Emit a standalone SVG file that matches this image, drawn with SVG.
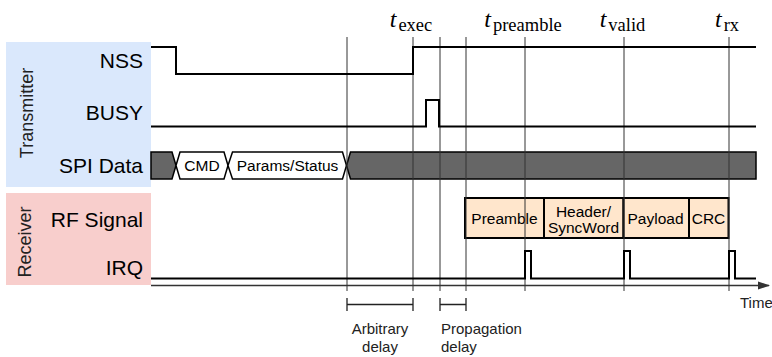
<svg xmlns="http://www.w3.org/2000/svg" width="772" height="357" viewBox="0 0 772 357">
<defs>
<style>
.lbl{font-family:"Liberation Sans",Arial,sans-serif;font-size:21px;fill:#000;text-anchor:end}
.side{font-family:"Liberation Sans",Arial,sans-serif;font-size:18px;fill:#222;text-anchor:middle}
.sm{font-family:"Liberation Sans",Arial,sans-serif;font-size:15.5px;fill:#000;text-anchor:middle}
.note{font-family:"Liberation Sans",Arial,sans-serif;font-size:15px;fill:#222}
.math{font-family:"Liberation Serif","Times New Roman",serif;font-size:24px;fill:#000;text-anchor:middle}
.sub{font-size:18.5px;font-style:normal}
.sig{fill:none;stroke:#000;stroke-width:2}
.vl{stroke:#333;stroke-width:1}
.hex{fill:#fff;stroke:#000;stroke-width:1.5}
.gray{fill:#666;stroke:#000;stroke-width:1.5}
.box{fill:#ffe6cc;stroke:#000;stroke-width:2}
.br{fill:none;stroke:#222;stroke-width:1.3}
</style>
<marker id="arr" markerWidth="12" markerHeight="10" refX="11" refY="5" orient="auto" markerUnits="userSpaceOnUse">
<path d="M0,1 L12,5 L0,9 z" fill="#333"/>
</marker>
</defs>
<rect width="772" height="357" fill="#fff"/>

<g id="panel-transmitter">
<rect x="6" y="42" width="145" height="145" fill="#dae8fc"/>
<text class="side" transform="translate(33,113) rotate(-90)">Transmitter</text>
</g>
<g id="panel-receiver">
<rect x="6" y="193" width="145" height="92" fill="#f8cecc"/>
<text class="side" transform="translate(31,242) rotate(-90)">Receiver</text>
</g>

<g id="label-nss"><text class="lbl" x="143" y="68">NSS</text></g>
<g id="label-busy"><text class="lbl" x="143" y="120">BUSY</text></g>
<g id="label-spi"><text class="lbl" x="143" y="173">SPI Data</text></g>
<g id="label-rf"><text class="lbl" x="143" y="227">RF Signal</text></g>
<g id="label-irq"><text class="lbl" x="143" y="275">IRQ</text></g>

<g id="spi-data">
<polygon class="gray" points="151,152 172,152 176,165.5 172,179 151,179"/>
<polygon class="hex" points="176,165.5 180,152 224,152 228,165.5 224,179 180,179"/>
<text class="sm" x="202" y="171">CMD</text>
<polygon class="hex" points="228,165.5 232.5,152 342.5,152 346.5,165.5 342.5,179 232.5,179"/>
<text class="sm" x="287.5" y="171">Params/Status</text>
<polygon class="gray" points="346.5,165.5 350.5,152 756,152 756,179 350.5,179"/>
</g>

<g id="rf-signal">
<rect class="box" x="465" y="198" width="79" height="40"/>
<text class="sm" x="504.5" y="224">Preamble</text>
<rect class="box" x="544" y="198" width="79.5" height="40"/>
<text class="sm" x="583.5" y="216.5">Header/</text>
<text class="sm" x="583.5" y="233">SyncWord</text>
<rect class="box" x="623.5" y="198" width="65.5" height="40"/>
<text class="sm" x="655.5" y="224">Payload</text>
<rect class="box" x="689" y="198" width="39.5" height="40"/>
<text class="sm" x="708.5" y="224">CRC</text>
</g>

<g id="connectors">
<line class="vl" x1="347" y1="37" x2="347" y2="291"/>
<line class="vl" x1="413" y1="37" x2="413" y2="291"/>
<line class="vl" x1="440" y1="37" x2="440" y2="291"/>
<line class="vl" x1="466" y1="37" x2="466" y2="291"/>
<line class="vl" x1="525" y1="37" x2="525" y2="291"/>
<line class="vl" x1="624" y1="37" x2="624" y2="291"/>
<line class="vl" x1="729" y1="37" x2="729" y2="291"/>
<polyline class="sig" points="151,47 176,47 176,74 413,74 413,47 756,47"/>
<polyline class="sig" points="151,126.5 426,126.5 426,100 439,100 439,126.5 756,126.5"/>
<polyline class="sig" points="151,278.5 525,278.5 525,251 531,251 531,278.5 624,278.5 624,251 630,251 630,278.5 729,278.5 729,251 735,251 735,278.5 756,278.5"/>
<line x1="151" y1="285.5" x2="769" y2="285.5" stroke="#333" stroke-width="1.5" marker-end="url(#arr)"/>
<path class="br" d="M347,298 V311 M347,304.5 H413 M413,298 V311"/>
<path class="br" d="M440,298 V311 M440,304.5 H466 M466,298 V311"/>
</g>

<g id="time-labels">
<text class="math" x="411" y="27"><tspan font-style="italic">t</tspan><tspan class="sub" dx="2" dy="3.5">exec</tspan></text>
<text class="math" x="523" y="27"><tspan font-style="italic">t</tspan><tspan class="sub" dx="2" dy="3.5">preamble</tspan></text>
<text class="math" x="622.5" y="27"><tspan font-style="italic">t</tspan><tspan class="sub" dx="2" dy="3.5">valid</tspan></text>
<text class="math" x="727" y="27"><tspan font-style="italic">t</tspan><tspan class="sub" dx="2" dy="3.5">rx</tspan></text>
</g>

<g id="notes">
<text class="note" x="380" y="334" text-anchor="middle">Arbitrary</text>
<text class="note" x="380" y="352" text-anchor="middle">delay</text>
<text class="note" x="441" y="334">Propagation</text>
<text class="note" x="441" y="352">delay</text>
<text class="note" x="740" y="308" font-size="14">Time</text>
</g>
</svg>
